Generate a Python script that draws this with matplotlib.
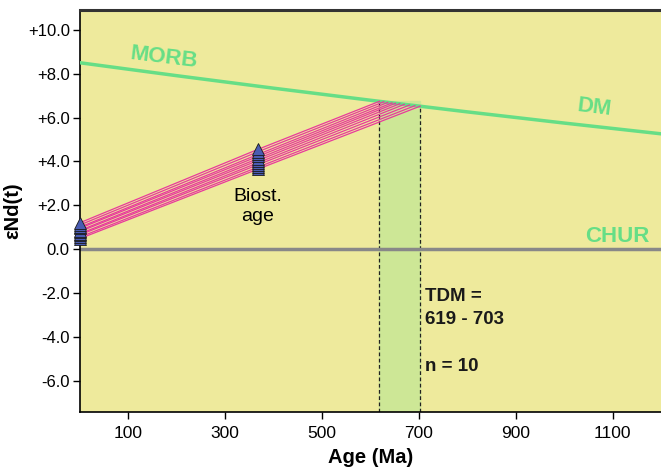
import matplotlib.pyplot as plt
import numpy as np

plt.rcParams['font.family'] = ['Liberation Sans', 'DejaVu Sans']

# depleted mantle evolution (Ma, eNd)
dm_age = [0, 200, 400, 600, 800, 1000, 1200]
dm_eps = [8.50, 7.91, 7.34, 6.79, 6.26, 5.75, 5.26]

# samples: present-day eNd, eNd at biostratigraphic age, model age and eNd on DM
bio_age = 368
eps_0 = [1.20, 1.10, 1.00, 0.95, 0.85, 0.80, 0.70, 0.65, 0.55, 0.48]
eps_bio = [4.55, 4.44, 4.32, 4.23, 4.13, 4.04, 3.94, 3.85, 3.74, 3.65]
tdm = [619, 628, 636, 645, 652, 661, 670, 681, 692, 703]
eps_tdm = [6.74, 6.72, 6.69, 6.67, 6.65, 6.63, 6.60, 6.57, 6.54, 6.52]

tdm_min, tdm_max = 619, 703

bg = '#eeea9c'
green = '#66de86'
pink = '#e8399b'
tri = '#4a5cb2'

fig = plt.figure(figsize=(6.61, 4.68), dpi=100)
ax = fig.add_axes([0.1203, 0.1203, 0.8797, 0.8583])
ax.set_facecolor(bg)

# TDM range band
ax.axvspan(tdm_min, tdm_max, ymax=(np.interp(tdm_min, dm_age, dm_eps) + 7.4) / 18.3,
           color='#cde796', zorder=1)
for t in (tdm_min, tdm_max):
    ax.plot([t, t], [-7.4, np.interp(t, dm_age, dm_eps)], color='#222222',
            lw=0.9, ls=(0, (3, 2)), zorder=2)

ax.axhline(0, color='#888888', lw=2.5, zorder=2)
ax.plot(dm_age, dm_eps, color=green, lw=2.5, zorder=3)

for e0, eb, t, ed in zip(eps_0, eps_bio, tdm, eps_tdm):
    ax.plot([0, bio_age, t], [e0, eb, ed], color=pink, lw=0.9, zorder=4)

# triangles stacked: lowest first so the highest one sits on top
ax.plot(np.zeros(len(eps_0)), sorted(eps_0), ls='none', marker='^', ms=9,
        mfc=tri, mec='#1a1a1a', mew=0.6, zorder=5, clip_on=False)
ax.plot(np.full(len(eps_bio), bio_age), sorted(eps_bio), ls='none', marker='^', ms=9,
        mfc=tri, mec='#1a1a1a', mew=0.6, zorder=5)

ax.text(bio_age, 1.95, 'Biost.\nage', ha='center', va='center', fontsize=14,
        linespacing=1.3)
ax.text(713, -2.14, 'TDM =', ha='left', va='center',
        fontsize=13.5, fontweight='bold', color='#1a1a1a')
ax.text(713, -3.22, '619 - 703', ha='left', va='center',
        fontsize=13.5, fontweight='bold', color='#1a1a1a')
ax.text(713, -5.36, 'n = 10', ha='left', va='center',
        fontsize=13.5, fontweight='bold', color='#1a1a1a')

ax.text(102, 8.72, 'MORB', color=green, fontsize=16, fontweight='bold',
        ha='left', va='center', rotation=-7)
ax.text(1063, 6.45, 'DM', color=green, fontsize=16, fontweight='bold',
        ha='center', va='center', rotation=-7)
ax.text(1110, 0.58, 'CHUR', color=green, fontsize=16, fontweight='bold',
        ha='center', va='center')

ax.set_xlim(0, 1200)
ax.set_ylim(-7.4, 10.9)
ax.set_xticks([100, 300, 500, 700, 900, 1100])
yt = [-6, -4, -2, 0, 2, 4, 6, 8, 10]
ax.set_yticks(yt)
ax.set_yticklabels([('+%.1f' % v) if v > 0 else ('%.1f' % v) for v in yt])
ax.tick_params(axis='x', labelsize=12.5, length=5, width=1, pad=5)
ax.tick_params(axis='y', labelsize=12, length=5, width=1, pad=2)

for s in ('left', 'bottom'):
    ax.spines[s].set_linewidth(1.2)
ax.spines['top'].set_linewidth(2.2)
ax.spines['top'].set_color('#333333')
ax.spines['right'].set_visible(False)

ax.set_xlabel('Age (Ma)', fontsize=14.5, fontweight='bold', labelpad=5)
ax.set_ylabel('\u03b5Nd(t)', fontsize=14.5, fontweight='bold', labelpad=4)

fig.savefig('out.png', dpi=100)
